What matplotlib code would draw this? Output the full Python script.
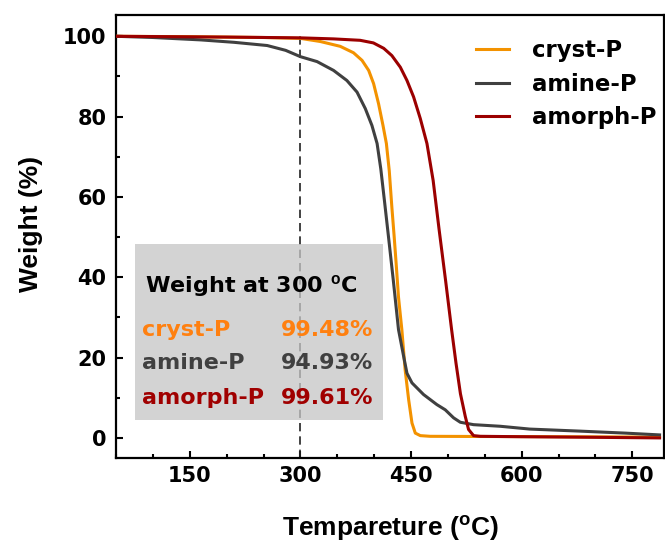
import numpy as np
import matplotlib
matplotlib.use("Agg")
import matplotlib.pyplot as plt
from matplotlib.patches import Rectangle
from matplotlib.ticker import MultipleLocator

plt.rcParams['font.family'] = ['DejaVu Sans']
plt.rcParams['font.weight'] = 'bold'
plt.rcParams['mathtext.fontset'] = 'custom'
plt.rcParams['mathtext.rm'] = 'Liberation Sans:bold'
plt.rcParams['mathtext.bf'] = 'Liberation Sans:bold'

# TGA curves (temperature in C, weight in %)
cryst_T = [50, 150, 250, 300, 327, 354, 372, 383.6, 392.6, 399.3, 406, 412,
           416.6, 420.5, 424, 427, 430, 433, 437.6, 442, 446.8, 451.3, 455.8,
           462.6, 476, 550, 650, 787]
cryst_W = [100, 99.9, 99.7, 99.48, 98.7, 97.5, 95.9, 94.0, 91.5, 88.2, 83.2,
           77.8, 73.3, 66.5, 57.5, 50.5, 43.0, 35.1, 26.9, 17.0, 9.5, 3.7, 1.2,
           0.57, 0.4, 0.35, 0.3, 0.2]

amine_T = [50, 100, 165, 210, 255, 280, 300, 322.6, 345, 363, 376.8, 388, 397,
           404, 409, 414, 419.5, 426, 433, 440, 444.5, 451.3, 467, 485, 496.4,
           507.7, 516.8, 534.8, 571, 611, 678, 740, 787]
amine_W = [100, 99.7, 99.1, 98.5, 97.7, 96.5, 94.93, 93.7, 91.5, 89.0, 86.1,
           82.0, 77.8, 73.3, 67.0, 59.0, 50.0, 39.2, 27.0, 20.3, 16.1, 13.7,
           10.8, 8.3, 7.0, 5.0, 3.9, 3.3, 2.9, 2.2, 1.7, 1.2, 0.75]

amorph_T = [50, 200, 300, 345, 381, 399, 413, 424, 435.5, 444.5, 453.5, 462.6,
            471.6, 480, 488, 497, 505, 511, 517, 523.5, 528, 534.8, 544, 600,
            700, 787]
amorph_W = [100, 99.8, 99.61, 99.35, 99.0, 98.35, 97.0, 95.2, 92.3, 89.0, 84.9,
            79.5, 73.3, 64.1, 52.0, 39.0, 27.0, 18.6, 11.0, 5.4, 2.1, 0.57, 0.4,
            0.3, 0.15, 0.0]

names = ['cryst-P', 'amine-P', 'amorph-P']
at300 = ['99.48%', '94.93%', '99.61%']
line_colors = ['#F39200', '#404040', '#9B0000']
text_colors = ['#FF8010', '#404040', '#A00000']

fig = plt.figure(figsize=(6.65, 5.43), dpi=100)
ax = fig.add_axes([116 / 665, 85 / 543, 548 / 665, 443 / 543])

kw = dict(lw=2.2, solid_joinstyle='round', zorder=4)
ax.plot(cryst_T, cryst_W, color=line_colors[0], label=names[0], **kw)
ax.plot(amine_T, amine_W, color=line_colors[1], label=names[1], **kw)
ax.plot(amorph_T, amorph_W, color=line_colors[2], label=names[2], **kw)

ax.plot([300, 300], [-5, 100.6], color='#222222', lw=1.2,
        linestyle=(0, (5, 3)), zorder=2)

# grey summary box
box = Rectangle((75.7, 4.5), 336.5, 43.7, facecolor='#c6c6c6', alpha=0.76,
                edgecolor='none', zorder=3)
ax.add_patch(box)
ax.text(89, 36.3, r'Weight at 300 $^{\mathbf{o}}$C', fontsize=16,
        fontweight='bold', color='black', va='baseline', zorder=5)
rows_y = [25.3, 17.1, 8.4]
for name, val, c, yy in zip(names, at300, text_colors, rows_y):
    ax.text(85, yy, name, fontsize=16, fontweight='bold', color=c,
            va='baseline', zorder=5)
    ax.text(398.6, yy, val, fontsize=16, fontweight='bold', color=c,
            va='baseline', ha='right', zorder=5)

ax.set_xlim(50, 793)
ax.set_ylim(-5, 105.3)
ax.xaxis.set_major_locator(MultipleLocator(150))
ax.xaxis.set_minor_locator(MultipleLocator(50))
ax.yaxis.set_major_locator(MultipleLocator(20))
ax.yaxis.set_minor_locator(MultipleLocator(10))
ax.tick_params(which='both', direction='in', width=1.5)
ax.tick_params(which='major', length=5)
ax.tick_params(which='minor', length=3)
ax.tick_params(axis='x', labelsize=15, pad=6)
ax.tick_params(axis='y', labelsize=15, pad=7)
for s in ax.spines.values():
    s.set_linewidth(1.6)

ax.set_xlabel(r'Tempareture ($^{\mathbf{o}}$C)', fontsize=19,
              fontweight='bold', family='Liberation Sans')
ax.set_ylabel('Weight (%)', fontsize=19, fontweight='bold',
              family='Liberation Sans')
ax.xaxis.set_label_coords(0.5, -0.124)
ax.yaxis.set_label_coords(-0.134, 0.528)

leg = ax.legend(loc='upper left', bbox_to_anchor=(0.657, 0.945),
                frameon=False, fontsize=16.4, handlelength=1.45,
                handletextpad=1.0, labelspacing=0.45, borderpad=0,
                borderaxespad=0)

fig.savefig('out.png', dpi=100)
